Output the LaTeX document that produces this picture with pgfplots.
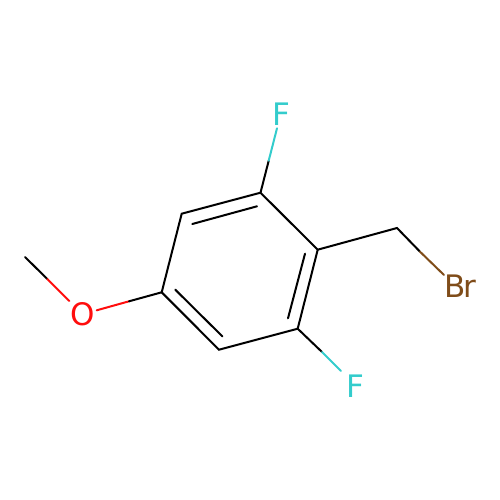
\documentclass[border=0pt]{standalone}
\usepackage{pgfplots}
\usepackage{fontspec}
\setmainfont{DejaVu Sans}
\pgfplotsset{compat=1.18}
\definecolor{fcol}{HTML}{33CCCC}
\definecolor{ocol}{HTML}{FF0D0D}
\definecolor{brcol}{HTML}{7F4C19}

\begin{document}
\begin{tikzpicture}
\begin{axis}[
	width=500pt, height=500pt,
	scale only axis,
	hide axis,
	clip=false,
	xmin=0, xmax=500,
	ymin=0, ymax=500,
	y dir=reverse,
	every axis plot/.append style={line width=2pt, line cap=round, no markers},
	]
	\path[use as bounding box] (axis cs:0,0) rectangle (axis cs:500,500);
	% ring
	\addplot[black] coordinates {(260.5,192.7) (181.7,213.7) (161.7,292.3) (219,349.7) (297.7,328.7) (317.7,249.7) (260.5,192.7)};
	% inner double bonds
	\addplot[black] coordinates {(192.3,224) (257,206.3)};
	\addplot[black] coordinates {(305,253.7) (288,318.3)};
	\addplot[black] coordinates {(175.3,289.7) (222.3,336.3)};
	% CH2Br
	\addplot[black] coordinates {(317.7,249.7) (397,228) (420,251.7)};
	\addplot[brcol] coordinates {(420,251.7) (444,275)};
	% fluorines
	\addplot[black] coordinates {(260.5,192.7) (268.7,160.7)};
	\addplot[fcol] coordinates {(268.7,160.7) (277,128.3)};
	\addplot[black] coordinates {(297.7,328.7) (322,352)};
	\addplot[fcol] coordinates {(322,352) (341,371)};
	% methoxy
	\addplot[black] coordinates {(25,257) (47.3,279)};
	\addplot[ocol] coordinates {(47.3,279) (69.3,301)};
	\addplot[ocol] coordinates {(96.7,310.3) (129,301.3)};
	\addplot[black] coordinates {(129,301.3) (161.7,292.3)};
	% atom labels
	\node[anchor=base, text=fcol, font=\fontsize{31}{31}\selectfont] at (axis cs:281,125) {F};
	\node[anchor=base, text=fcol, font=\fontsize{31}{31}\selectfont] at (axis cs:355,397) {F};
	\node[anchor=base, text=ocol, font=\fontsize{31}{31}\selectfont] at (axis cs:82.5,325.5) {O};
	\node[anchor=base, text=brcol, font=\fontsize{31}{31}\selectfont] at (axis cs:460,297.3) {B\kern-2pt r};
\end{axis}
\end{tikzpicture}
\end{document}
